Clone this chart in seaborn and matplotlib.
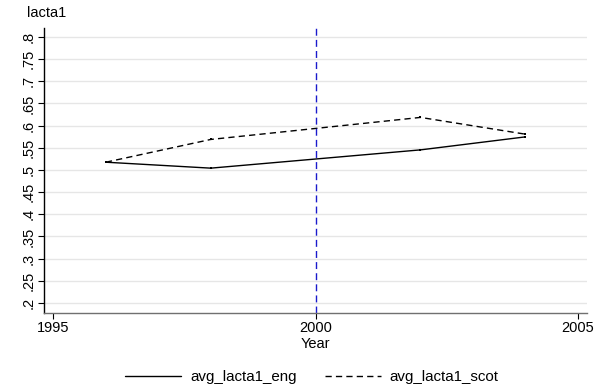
import seaborn as sns
import matplotlib.pyplot as plt
import pandas as pd
from matplotlib.lines import Line2D

sns.set_theme(style="white")
plt.rcParams['font.family'] = ['Liberation Sans', 'DejaVu Sans']
plt.rcParams['text.color'] = 'black'
plt.rcParams['axes.labelcolor'] = 'black'
plt.rcParams['xtick.color'] = 'black'
plt.rcParams['ytick.color'] = 'black'

### data
years = [1996, 1998, 2002, 2004]
avg_lacta1_eng = [0.5174, 0.5040, 0.5452, 0.5745]
avg_lacta1_scot = [0.5174, 0.5687, 0.6184, 0.5806]
yticks = [0.2, 0.25, 0.3, 0.35, 0.4, 0.45, 0.5, 0.55, 0.6, 0.65, 0.7, 0.75, 0.8]
ytick_labels = ['.2', '.25', '.3', '.35', '.4', '.45', '.5', '.55', '.6', '.65', '.7', '.75', '.8']
xticks = [1995, 2000, 2005]

df = pd.DataFrame({'Year': years * 2,
                   'value': avg_lacta1_eng + avg_lacta1_scot,
                   'series': ['avg_lacta1_eng'] * 4 + ['avg_lacta1_scot'] * 4})

fig = plt.figure(figsize=(6.02, 3.92), dpi=100)
ax = fig.add_axes([0.0731, 0.2015, 0.9015, 0.7271])

sns.lineplot(data=df, x='Year', y='value', style='series', color='black',
             dashes={'avg_lacta1_eng': '', 'avg_lacta1_scot': (4.5, 3)},
             linewidth=1.0, marker='s', markersize=2, markeredgewidth=0,
             legend=False, ax=ax)
ax.axvline(2000, color='#1a1acc', linestyle=(0, (5, 3)), linewidth=1.0)

ax.set_xlim(1994.82, 2005.17)
ax.set_ylim(0.1774, 0.82)
ax.set_xticks(xticks)
ax.set_yticks(yticks)
ax.set_yticklabels(ytick_labels, rotation=90, va='center')
ax.tick_params(axis='both', labelsize=10.5, length=4, width=0.8, color='black',
               left=True, bottom=True, pad=2)
ax.grid(axis='y', color='#e6e6e6', linewidth=1.0)
ax.set_axisbelow(True)
for side in ['top', 'right']:
    ax.spines[side].set_visible(False)
ax.spines['left'].set_color('black')
ax.spines['bottom'].set_color('#707070')
ax.spines['left'].set_linewidth(1.0)
ax.spines['bottom'].set_linewidth(1.0)
ax.set_xlabel('Year', fontsize=10.5, labelpad=1)
ax.set_ylabel('')
fig.text(0.045, 0.966, 'lacta1', fontsize=10.5, ha='left', va='center')

handles = [Line2D([], [], color='black', linewidth=1.0),
           Line2D([], [], color='black', linewidth=1.0, linestyle=(0, (4.5, 3)))]
fig.legend(handles, ['avg_lacta1_eng', 'avg_lacta1_scot'], loc='center',
           bbox_to_anchor=(0.518, 0.038), ncol=2, frameon=False, fontsize=10.9,
           handlelength=3.7, columnspacing=1.85, handletextpad=0.6)

fig.savefig('out.png', dpi=100)
